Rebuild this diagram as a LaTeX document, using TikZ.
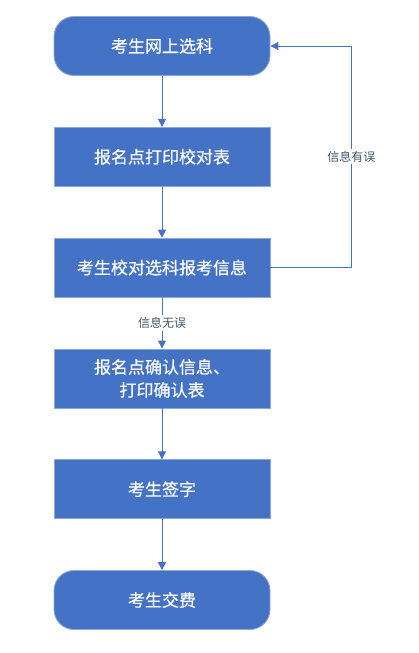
\documentclass[tikz,border=0pt]{standalone}
\usepackage{fontspec}
\setmainfont{Noto Sans CJK SC}
\newfontfamily\boxfont{Noto Sans CJK SC}[FakeBold=0.5]
\usepackage{tikz}
\usetikzlibrary{shapes, arrows.meta, positioning}

\definecolor{boxblue}{RGB}{68,114,196}
\definecolor{boxedge}{RGB}{140,168,215}
\definecolor{labelgray}{RGB}{68,84,106}

\begin{document}
\begin{tikzpicture}[
        x=1pt, y=1pt,
        node distance=51pt,
        block/.style={
          rectangle,
          draw=boxedge,
          line width=0.8pt,
          fill=boxblue,
          text=white,
          minimum width=216pt,
          minimum height=59pt,
          align=center,
          font=\boxfont\fontsize{17}{23}\selectfont
        },
        terminal/.style={
          block,
          rounded corners=20pt
        },
        line/.style={-{Triangle[width=8pt, length=8pt]}, draw=boxblue, line width=1pt},
        note/.style={
          fill=white,
          text=labelgray,
          inner sep=2pt,
          font=\fontsize{12}{13}\selectfont
        }
    ]
    \useasboundingbox (0,0) rectangle (418,-653);

    % Define the nodes
    \node[terminal] (select) at (162,-46) {考生网上选科};
    \node[block, below=of select] (printCheck) {报名点打印校对表};
    \node[block, below=of printCheck] (verify) {考生校对选科报考信息};
    \node[block, below=of verify] (confirm) {报名点确认信息、\\打印确认表};
    \node[block, below=of confirm] (sign) {考生签字};
    \node[terminal, below=of sign] (pay) {考生交费};

    % Connect the nodes
    \draw[line] (select) -- (printCheck);
    \draw[line] (printCheck) -- (verify);
    \draw[line] (verify) -- node[note] {信息无误} (confirm);
    \draw[line] (confirm) -- (sign);
    \draw[line] (sign) -- (pay);

    % Feedback loop
    \coordinate (loopDown) at ([xshift=81pt]verify.east);
    \draw[line] (verify.east) -- (loopDown)
        -- node[note, pos=0.5] {信息有误} (loopDown |- select.east) -- (select.east);

\end{tikzpicture}
\end{document}
